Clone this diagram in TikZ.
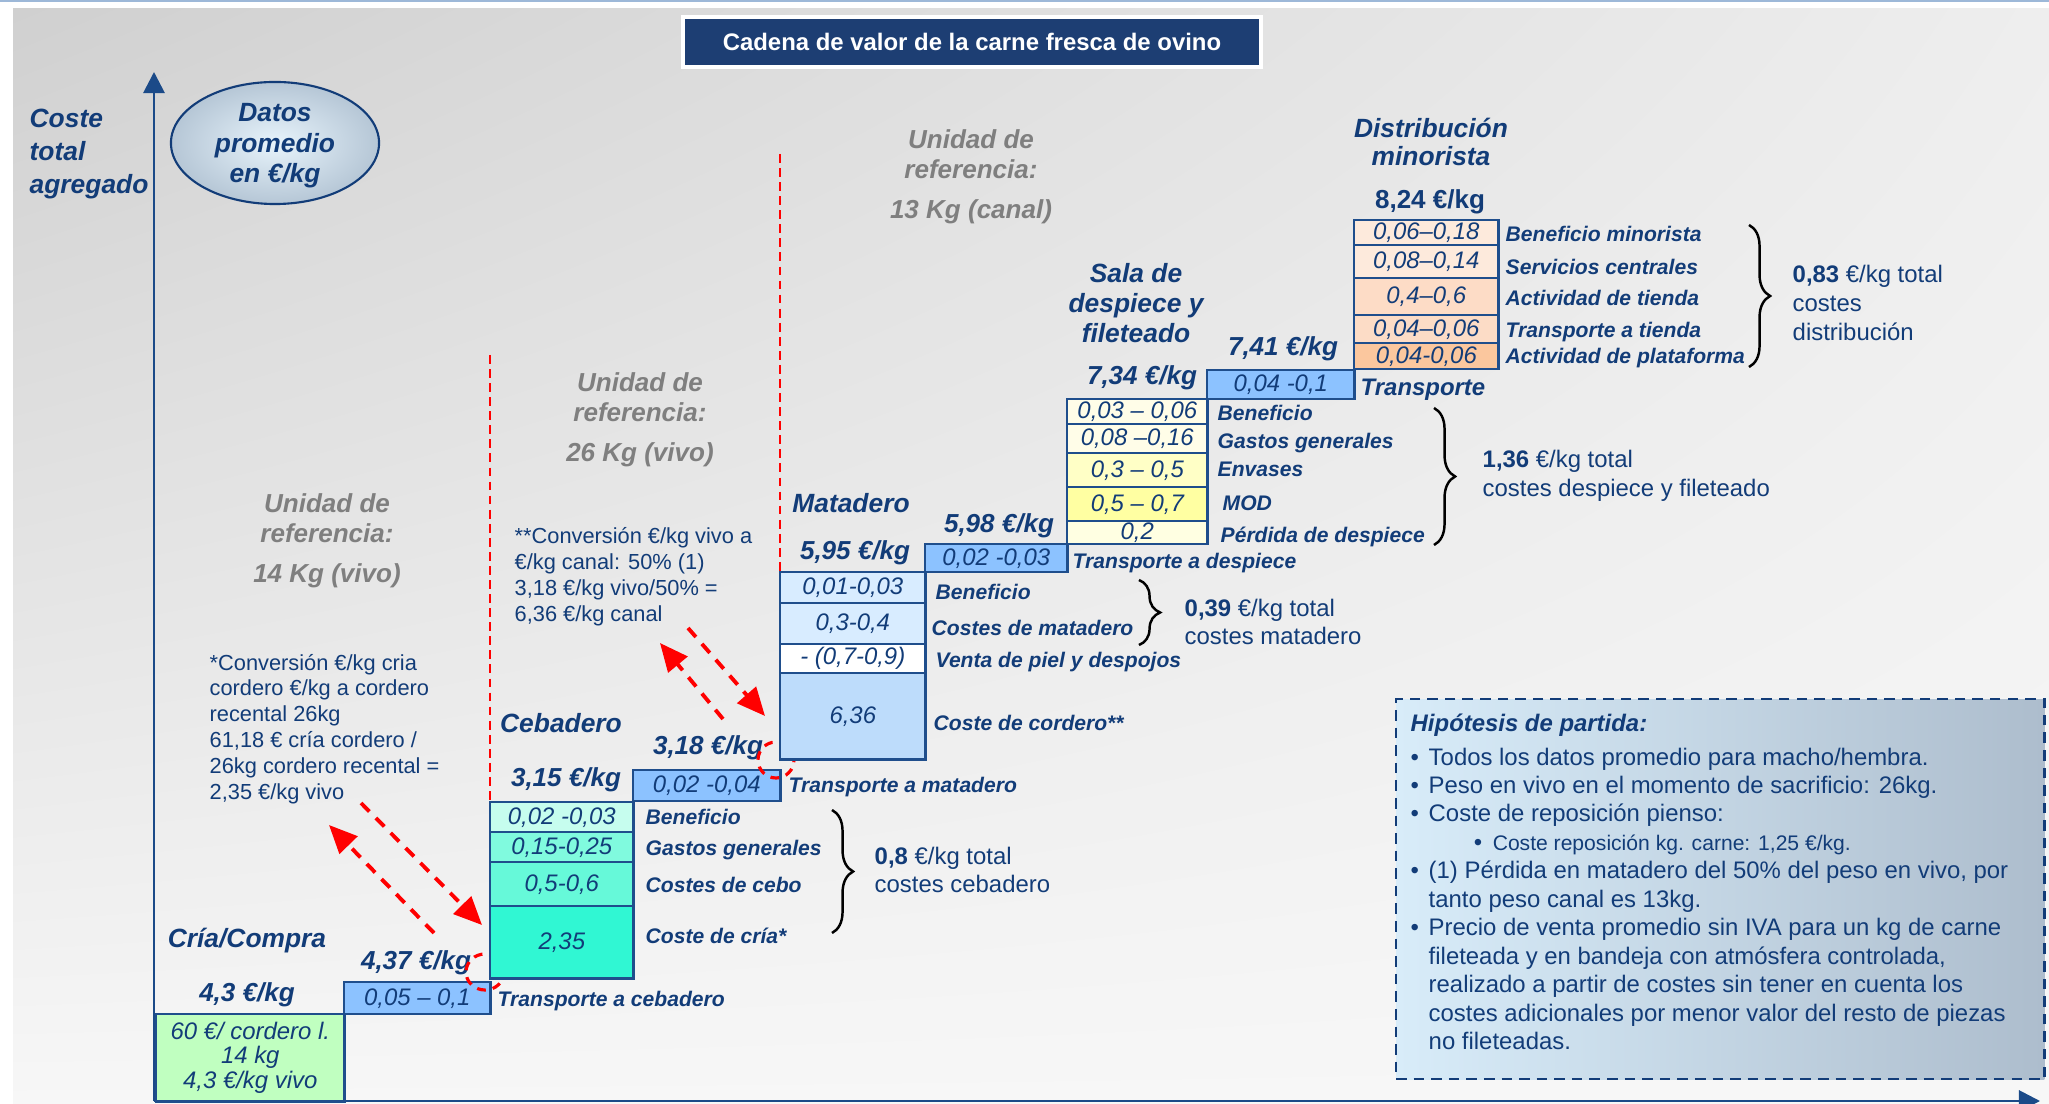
\documentclass[tikz,border=0pt]{standalone}
\usepackage{fontspec}
\setmainfont{Liberation Sans}
\usetikzlibrary{arrows.meta}
\usetikzlibrary{positioning}
\usetikzlibrary{shapes.geometric}
\usetikzlibrary{shadings}
\usetikzlibrary{decorations.pathreplacing}

\definecolor{navy}{HTML}{123C78}
\definecolor{cellline}{HTML}{1F4E8C}
\definecolor{axisblue}{HTML}{1B4A88}
\definecolor{titleblue}{HTML}{1D3E73}
\definecolor{unitgray}{HTML}{7F7F7F}
\definecolor{bgdark}{HTML}{D0D0D0}
\definecolor{bgmid}{HTML}{EEEEEE}
\definecolor{bglight}{HTML}{F7F7F7}
\definecolor{topline}{HTML}{9DB8D8}
\definecolor{trblue}{HTML}{8CC2FF}
\definecolor{hypA}{HTML}{D8ECF9}
\definecolor{hypB}{HTML}{ADBDCD}

\newcommand{\stagefont}{\fontsize{7.5pt}{8.6pt}\selectfont\bfseries\itshape}
\newcommand{\pricefont}{\fontsize{7.4pt}{8.6pt}\selectfont\bfseries\itshape}
\newcommand{\valfont}{\fontsize{6.8pt}{7pt}\selectfont\itshape}
\newcommand{\rowfont}{\fontsize{6pt}{7pt}\selectfont\bfseries\itshape}
\newcommand{\sumfont}{\fontsize{6.8pt}{8.2pt}\selectfont}
\newcommand{\notefont}{\fontsize{6.2pt}{7.35pt}\selectfont}
\newcommand{\unitfont}{\fontsize{7.4pt}{8.5pt}\selectfont\bfseries\itshape}
\newcommand{\hypfont}{\fontsize{6.8pt}{8.1pt}\selectfont}
\newcommand{\bul}{\makebox[0.18cm][l]{•}}

\begin{document}
\begin{tikzpicture}[x=0.01cm, y=-0.01cm,
    cell/.style={draw=cellline, line width=0.7pt, inner sep=0pt, anchor=north west,
      text=navy, font=\valfont, align=center},
    stage/.style={text=navy, font=\stagefont, align=center, inner sep=0pt},
    price/.style={text=navy, font=\pricefont, inner sep=0pt},
    row/.style={text=navy, font=\rowfont, anchor=west, inner sep=0pt},
    total/.style={text=navy, font=\sumfont, anchor=west, align=left, inner sep=0pt},
    unit/.style={text=unitgray, font=\unitfont, align=center, inner sep=0pt},
    note/.style={text=navy, font=\notefont, anchor=west, align=left, inner sep=0pt},
    guide/.style={red, line width=0.6pt, dash pattern=on 2.5pt off 1.5pt},
    conv/.style={red, line width=1.1pt, dash pattern=on 3.4pt off 2.6pt,
      -{Triangle[length=8pt,width=7pt]}},
    ring/.style={red, line width=0.9pt, dash pattern=on 2.5pt off 2pt},
    sumbrace/.style={decorate, decoration={brace, amplitude=6pt}, line width=0.7pt},
    axis/.style={axisblue, line width=0.8pt, -{Triangle[length=6pt,width=6pt]}}
  ]
  \useasboundingbox (0,0) rectangle (2049,1104);

  % background
  \fill[white] (0,0) rectangle (2049,1104);
  \shade[upper left=bgdark, upper right=bgmid, lower left=bglight, lower right=bglight]
    (13,9) rectangle (2049,1104);
  \fill[topline] (0,0) rectangle (2049,2.5);

  % title
  \node[fill=titleblue, draw=white, line width=1pt, minimum width=5.78cm, minimum height=0.50cm,
    text=white, font=\fontsize{6.8pt}{8pt}\selectfont\bfseries] (title) at (972,42)
    {Cadena de valor de la carne fresca de ovino};

  % axes
  \coordinate (origin) at (154,1101);
  \coordinate (ytop) at (154,72);
  \coordinate (xend) at (2040,1101);
  \draw[axis] (origin) -- (ytop);
  \draw[axis] (origin) -- (xend);

  \node[text=navy, font=\fontsize{7.5pt}{9.3pt}\selectfont\bfseries\itshape, align=left,
    anchor=west, inner sep=0pt] (ylabel) at (29,154) {Coste\\total\\agregado};

  \node[ellipse, draw=navy, line width=0.6pt, minimum width=2.08cm, minimum height=1.22cm,
    inner color=hypA!60!white, outer color=hypB!80!hypA, text=navy, text depth=0pt,
    font=\fontsize{7.5pt}{8.7pt}\selectfont\bfseries\itshape, align=center, inner sep=0pt]
    (datos) at (275,143) {Datos\\promedio\\en €/kg};

  % reference units
  \coordinate (g1top) at (490,355);
  \coordinate (g1bot) at (490,801);
  \coordinate (g2top) at (780,154);
  \coordinate (g2bot) at (780,571);
  \draw[guide] (g1top) -- (g1bot);
  \draw[guide] (g2top) -- (g2bot);

  \node[unit] (unit14) at (327,541) {Unidad de\\referencia:\\[2.8pt]14 Kg (vivo)};
  \node[unit] (unit26) at (640,420) {Unidad de\\referencia:\\[2.8pt]26 Kg (vivo)};
  \node[unit] (unit13) at (971,177) {Unidad de\\referencia:\\[2.8pt]13 Kg (canal)};

  \node[note] (convcria) at (209,729) {*Conversión €/kg cria\\cordero €/kg a cordero\\recental 26kg\\61,18 € cría cordero /\\26kg cordero recental =\\2,35 €/kg vivo};
  \node[note] (convcanal) at (514,577) {**Conversión €/kg vivo a\\€/kg canal: 50\% (1)\\3,18 €/kg vivo/50\% =\\6,36 €/kg canal};

  % conversion arrows
  \coordinate (c1a) at (361,803);
  \coordinate (c1b) at (482,925);
  \coordinate (c2a) at (434,933);
  \coordinate (c2b) at (329,825);
  \coordinate (c3a) at (688,628);
  \coordinate (c3b) at (765,716);
  \coordinate (c4a) at (723,719);
  \coordinate (c4b) at (660,643);
  \draw[conv] (c1a) -- (c1b);
  \draw[conv] (c2a) -- (c2b);
  \draw[conv] (c3a) -- (c3b);
  \draw[conv] (c4a) -- (c4b);

  % cria / compra
  \node[stage] (cria) at (247,941) {Cría/Compra};
  \node[price] (pcria) at (247,995) {4,3 €/kg};
  \node[cell, fill={rgb,255:red,192;green,255;blue,192}, minimum width=1.88cm, minimum height=0.87cm]
    (cria1) at (155,1013) {60 €/ cordero l.\\14 kg\\4,3 €/kg vivo};

  % transporte a cebadero
  \node[price] (ptrceb) at (416,963) {4,37 €/kg};
  \node[cell, fill=trblue, minimum width=1.46cm, minimum height=0.32cm] (trceb) at (343,981) {0,05 – 0,1};
  \node[row] (ltrceb) at (497,1001) {Transporte a cebadero};
  \draw[ring] (485,972) ellipse [x radius=0.19cm, y radius=0.18cm];

  % cebadero
  \node[stage] (ceb) at (561,723) {Cebadero};
  \node[price] (pceb) at (566,780) {3,15 €/kg};
  \node[cell, fill={rgb,255:red,198;green,253;blue,238}, minimum width=1.43cm, minimum height=0.30cm] (ceb1) at (489,801) {0,02 -0,03};
  \node[cell, fill={rgb,255:red,128;green,250;blue,222}, minimum width=1.43cm, minimum height=0.30cm] (ceb2) at (489,831) {0,15-0,25};
  \node[cell, fill={rgb,255:red,102;green,249;blue,217}, minimum width=1.43cm, minimum height=0.44cm] (ceb3) at (489,861) {0,5-0,6};
  \node[cell, fill={rgb,255:red,48;green,247;blue,211}, minimum width=1.43cm, minimum height=0.72cm] (ceb4) at (489,905) {2,35};
  \node[row] (lceb1) at (645,817) {Beneficio};
  \node[row] (lceb2) at (645,850) {Gastos generales};
  \node[row] (lceb3) at (645,885) {Costes de cebo};
  \node[row] (lceb4) at (645,936) {Coste de cría*};
  \coordinate (bcebtop) at (832,810);
  \coordinate (bcebbot) at (832,933);
  \draw[sumbrace] (bcebtop) -- (bcebbot);
  \node[total] (tceb) at (874,870) {\textbf{0,8} €/kg total\\costes cebadero};

  % transporte a matadero
  \node[price] (ptrmat) at (708,748) {3,18 €/kg};
  \node[cell, fill=trblue, minimum width=1.47cm, minimum height=0.31cm] (trmat) at (632,769) {0,02 -0,04};
  \node[row] (ltrmat) at (788,787) {Transporte a matadero};
  \draw[ring] (776,760) ellipse [x radius=0.18cm, y radius=0.18cm];

  % matadero
  \node[stage] (mat) at (851,503) {Matadero};
  \node[price] (pmat) at (855,553) {5,95 €/kg};
  \node[cell, fill={rgb,255:red,216;green,236;blue,255}, minimum width=1.45cm, minimum height=0.31cm] (mat1) at (779,571) {0,01-0,03};
  \node[cell, fill={rgb,255:red,216;green,236;blue,255}, minimum width=1.45cm, minimum height=0.41cm] (mat2) at (779,602) {0,3-0,4};
  \node[cell, fill=white, minimum width=1.45cm, minimum height=0.29cm] (mat3) at (779,643) {- (0,7-0,9)};
  \node[cell, fill={rgb,255:red,189;green,220;blue,251}, minimum width=1.45cm, minimum height=0.86cm] (mat4) at (779,672) {6,36};
  \node[row] (lmat1) at (935,592) {Beneficio};
  \node[row] (lmat2) at (931,628) {Costes de matadero};
  \node[row] (lmat3) at (935,662) {Venta de piel y despojos};
  \node[row] (lmat4) at (933,723) {Coste de cordero**};
  \coordinate (bmattop) at (1139,580);
  \coordinate (bmatbot) at (1139,645);
  \draw[sumbrace] (bmattop) -- (bmatbot);
  \node[total] (tmat) at (1184,622) {\textbf{0,39} €/kg total\\costes matadero};

  % transporte a despiece
  \node[price] (ptrdes) at (999,526) {5,98 €/kg};
  \node[cell, fill=trblue, minimum width=1.42cm, minimum height=0.28cm] (trdes) at (924,543) {0,02 -0,03};
  \node[row] (ltrdes) at (1072,563) {Transporte a despiece};

  % sala de despiece
  \node[stage] (sala) at (1136,303) {Sala de\\despiece y\\fileteado};
  \node[price] (psala) at (1142,378) {7,34 €/kg};
  \node[cell, fill={rgb,255:red,255;green,253;blue,232}, minimum width=1.40cm, minimum height=0.25cm] (sala1) at (1066,398) {0,03 – 0,06};
  \node[cell, fill={rgb,255:red,255;green,253;blue,232}, minimum width=1.40cm, minimum height=0.29cm] (sala2) at (1066,423) {0,08 –0,16};
  \node[cell, fill={rgb,255:red,255;green,255;blue,198}, minimum width=1.40cm, minimum height=0.34cm] (sala3) at (1066,452) {0,3 – 0,5};
  \node[cell, fill={rgb,255:red,255;green,255;blue,162}, minimum width=1.40cm, minimum height=0.34cm] (sala4) at (1066,486) {0,5 – 0,7};
  \node[cell, fill={rgb,255:red,255;green,255;blue,226}, minimum width=1.40cm, minimum height=0.23cm] (sala5) at (1066,520) {0,2};
  \node[row] (lsala1) at (1217,413) {Beneficio};
  \node[row] (lsala2) at (1217,443) {Gastos generales};
  \node[row] (lsala3) at (1217,469) {Envases};
  \node[row] (lsala4) at (1222,503) {MOD};
  \node[row] (lsala5) at (1220,537) {Pérdida de despiece};
  \coordinate (bsalatop) at (1434,408);
  \coordinate (bsalabot) at (1434,545);
  \draw[sumbrace] (bsalatop) -- (bsalabot);
  \node[total] (tsala) at (1482,476) {\textbf{1,36} €/kg total\\costes despiece y fileteado};

  % transporte
  \node[price] (ptrtie) at (1283,349) {7,41 €/kg};
  \node[cell, fill=trblue, minimum width=1.47cm, minimum height=0.29cm] (trtie) at (1206,369) {0,04 -0,1};
  \node[row, font=\fontsize{6.8pt}{7pt}\selectfont\bfseries\itshape] (ltrtie) at (1360,390) {Transporte};

  % distribucion minorista
  \node[stage, font=\fontsize{7.5pt}{8pt}\selectfont\bfseries\itshape] (dist) at (1431,142) {Distribución\\minorista};
  \node[price, font=\fontsize{7.4pt}{8.6pt}\selectfont\bfseries] (pdist) at (1430,202) {8,24 €/kg};
  \node[cell, fill={rgb,255:red,253;green,234;blue,220}, minimum width=1.44cm, minimum height=0.25cm] (dist1) at (1353,219) {0,06–0,18};
  \node[cell, fill={rgb,255:red,253;green,234;blue,220}, minimum width=1.44cm, minimum height=0.33cm] (dist2) at (1353,244) {0,08–0,14};
  \node[cell, fill={rgb,255:red,253;green,220;blue,198}, minimum width=1.44cm, minimum height=0.37cm] (dist3) at (1353,277) {0,4–0,6};
  \node[cell, fill={rgb,255:red,252;green,220;blue,198}, minimum width=1.44cm, minimum height=0.28cm] (dist4) at (1353,314) {0,04–0,06};
  \node[cell, fill={rgb,255:red,251;green,199;blue,158}, minimum width=1.44cm, minimum height=0.26cm] (dist5) at (1353,342) {0,04-0,06};
  \node[row] (ldist1) at (1505,234) {Beneficio minorista};
  \node[row] (ldist2) at (1505,267) {Servicios centrales};
  \node[row] (ldist3) at (1505,298) {Actividad de tienda};
  \node[row] (ldist4) at (1505,332) {Transporte a tienda};
  \node[row] (ldist5) at (1505,358) {Actividad de plataforma};
  \coordinate (bdisttop) at (1749,225);
  \coordinate (bdistbot) at (1749,367);
  \draw[sumbrace] (bdisttop) -- (bdistbot);
  \node[total] (tdist) at (1792,303) {\textbf{0,83} €/kg total\\costes\\distribución};

  % hipotesis
  \node[anchor=north west, draw=navy, line width=0.6pt, dash pattern=on 3pt off 2pt,
    left color=hypA, right color=hypB, minimum width=6.48cm, minimum height=3.80cm,
    inner sep=0pt] (hypbox) at (1395,698) {};
  \node[anchor=north west, text=navy, font=\hypfont, align=left, inner sep=0pt]
    (hyptext) at (1410,713) {%
    {\bfseries\itshape Hipótesis de partida:}\\[1.5pt]
    \bul Todos los datos promedio para macho/hembra.\\
    \bul Peso en vivo en el momento de sacrificio: 26kg.\\
    \bul Coste de reposición pienso:\\
    \hspace*{0.63cm}\makebox[0.19cm][l]{•}{\fontsize{6pt}{8.1pt}\selectfont Coste reposición kg. carne: 1,25 €/kg.}\\
    \bul (1) Pérdida en matadero del 50\% del peso en vivo, por\\
    \hspace*{0.18cm}tanto peso canal es 13kg.\\
    \bul Precio de venta promedio sin IVA para un kg de carne\\
    \hspace*{0.18cm}fileteada y en bandeja con atmósfera controlada,\\
    \hspace*{0.18cm}realizado a partir de costes sin tener en cuenta los\\
    \hspace*{0.18cm}costes adicionales por menor valor del resto de piezas\\
    \hspace*{0.18cm}no fileteadas.};
\end{tikzpicture}
\end{document}
